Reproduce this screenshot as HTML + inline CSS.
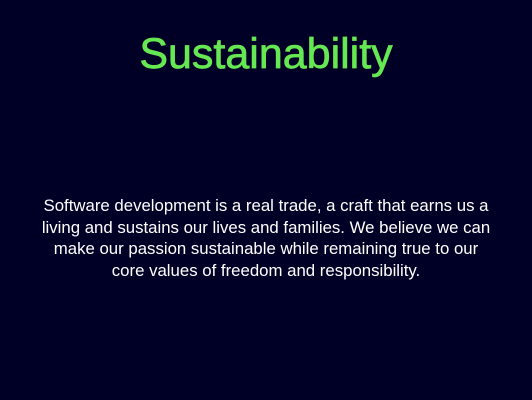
<!DOCTYPE html>
<html><head><meta charset="utf-8"><style>
html,body{margin:0;padding:0;width:532px;height:400px;background:#000026;overflow:hidden}
h1{position:absolute;left:0;width:532px;top:30px;margin:0;text-align:center;font:43px "Liberation Sans",sans-serif;color:#66e853;-webkit-text-stroke:0.7px #66e853}
p{position:absolute;left:0;width:532px;top:195px;margin:0;text-align:center;font:16.8px/21.5px "Liberation Sans",sans-serif;color:#fff}
</style></head><body>
<h1>Sustainability</h1>
<p>Software development is a real trade, a craft that earns us a<br>living and sustains our lives and families. We believe we can<br>make our passion sustainable while remaining true to our<br>core values of freedom and responsibility.</p>
</body></html>
